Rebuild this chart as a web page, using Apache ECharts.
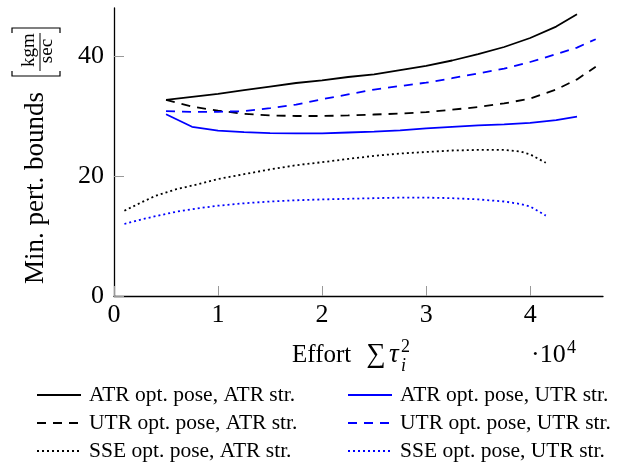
<!DOCTYPE html>
<html>
<head>
<meta charset="utf-8">
<script src="https://cdn.jsdelivr.net/npm/echarts@6/dist/echarts.min.js"></script>
<style>html,body{margin:0;padding:0;background:#fff}#c{width:624px;height:466px}</style>
</head>
<body>
<div id="c"></div>
<script>
// ---- data (x in raw units, y in kgm/sec) ----
const xTicks = [0, 10000, 20000, 30000, 40000];
const yTicks = [0, 20, 40];
const seriesNames = [
  'ATR opt. pose, ATR str.', 'ATR opt. pose, UTR str.',
  'UTR opt. pose, ATR str.', 'UTR opt. pose, UTR str.',
  'SSE opt. pose, ATR str.', 'SSE opt. pose, UTR str.'
];
const atrAtr = [[5000,32.7],[7500,33.2],[10000,33.7],[12500,34.3],[15000,34.9],[17500,35.5],[20000,35.95],[22500,36.5],[25000,36.95],[27500,37.65],[30000,38.35],[32500,39.25],[35000,40.3],[37500,41.5],[40000,43.0],[42500,44.9],[44500,46.95]];
const atrUtr = [[5000,30.3],[7500,28.2],[10000,27.55],[12500,27.3],[15000,27.15],[17500,27.1],[20000,27.1],[22500,27.25],[25000,27.4],[27500,27.6],[30000,27.95],[32500,28.2],[35000,28.45],[37500,28.6],[40000,28.85],[42500,29.3],[44500,29.9]];
const utrAtr = [[5000,32.7],[7500,31.55],[10000,30.9],[12500,30.35],[15000,30.1],[17500,30.0],[20000,30.0],[22500,30.1],[25000,30.25],[27500,30.4],[30000,30.65],[32500,31.05],[35000,31.5],[37500,32.1],[40000,32.9],[42500,34.4],[44500,36.1],[46300,38.2]];
const utrUtr = [[5000,30.8],[7500,30.7],[10000,30.7],[12500,30.8],[15000,31.3],[17500,31.9],[20000,32.8],[22500,33.6],[25000,34.4],[27500,35.0],[30000,35.55],[32500,36.3],[35000,37.1],[37500,37.9],[40000,39.0],[42500,40.3],[44500,41.4],[46300,42.8]];
const sseAtr = [[1000,14.2],[2500,15.5],[4000,16.7],[6000,17.8],[8000,18.6],[10000,19.5],[12500,20.3],[15000,21.1],[17500,21.8],[20000,22.3],[22500,22.85],[25000,23.35],[27500,23.75],[30000,24.0],[32500,24.25],[35000,24.35],[37500,24.35],[39000,24.1],[40000,23.6],[41500,22.2]];
const sseUtr = [[1000,12.0],[2500,12.7],[4000,13.3],[6000,14.05],[8000,14.6],[10000,15.05],[12500,15.45],[15000,15.75],[17500,15.95],[20000,16.1],[22500,16.2],[25000,16.3],[27500,16.4],[30000,16.4],[32500,16.3],[35000,16.1],[37500,15.75],[39000,15.35],[40000,14.9],[41500,13.4]];

const FF = '"Liberation Serif", "Times New Roman", serif';
const BLUE = '#0000ff', BLACK = '#000000';
const DASH = [9, 7], DOT = [2, 3];

function mk(name, data, color, type) {
  return {
    name, type: 'line', data, showSymbol: false, symbol: 'none',
    lineStyle: { color, width: 1.8, type },
    itemStyle: { color },
    animation: false, z: 3
  };
}

const series = [
  mk(seriesNames[0], atrAtr, BLACK, 'solid'),
  mk(seriesNames[1], atrUtr, BLUE, 'solid'),
  mk(seriesNames[2], utrAtr, BLACK, DASH),
  mk(seriesNames[3], utrUtr, BLUE, DASH),
  mk(seriesNames[4], sseAtr, BLACK, DOT),
  mk(seriesNames[5], sseUtr, BLUE, DOT)
];

const legendRows = [395, 423, 451];
const legendCols = [36, 347];
const legends = [];
seriesNames.forEach((n, i) => {
  const row = Math.floor(i / 2), col = i % 2;
  legends.push({
    data: [n], orient: 'horizontal', left: legendCols[col], top: legendRows[row] - 11,
    padding: 0, itemWidth: 44, itemHeight: 14, itemGap: 0, selectedMode: false,
    itemStyle: { opacity: 0, borderWidth: 0 },
    textStyle: { fontFamily: FF, fontSize: 21.5, color: '#000', lineHeight: 22, padding: [0, 0, 0, 3] }
  });
});

const txt = (x, y, text, size, opts) => Object.assign({
  type: 'text', x, y, silent: true,
  style: Object.assign({ text, font: size + 'px ' + FF, fill: '#000', align: 'left', verticalAlign: 'middle' }, opts || {})
});

const graphic = [
  // y-axis name
  { type: 'text', x: 36, y: 188, rotation: Math.PI / 2, silent: true,
    style: { text: 'Min. pert. bounds', font: '27px ' + FF, fill: '#000', align: 'center', verticalAlign: 'middle' } },
  { type: 'text', x: 29, y: 50, rotation: Math.PI / 2, silent: true,
    style: { text: 'kgm', font: '19px ' + FF, fill: '#000', align: 'center', verticalAlign: 'middle' } },
  { type: 'text', x: 47, y: 51, rotation: Math.PI / 2, silent: true,
    style: { text: 'sec', font: '19px ' + FF, fill: '#000', align: 'center', verticalAlign: 'middle' } },
  { type: 'line', silent: true, shape: { x1: 40, y1: 33, x2: 40, y2: 71 }, style: { stroke: '#000', lineWidth: 1 } },
  { type: 'polyline', silent: true, shape: { points: [[12, 33], [12, 28], [60, 28], [60, 33]] }, style: { stroke: '#000', lineWidth: 1.2, fill: null } },
  { type: 'polyline', silent: true, shape: { points: [[12, 71], [12, 76], [60, 76], [60, 71]] }, style: { stroke: '#000', lineWidth: 1.2, fill: null } },
  // x-axis name
  txt(292, 355, 'Effort', 25),
  txt(376, 355, '\u2211', 27, { align: 'center' }),
  txt(389, 355, '\u03c4', 27, { font: 'italic 27px ' + FF }),
  txt(401, 347.5, '2', 18),
  txt(401, 366, 'i', 18, { font: 'italic 18px ' + FF }),
  txt(531, 355, '\u00b710', 26),
  txt(567, 348.5, '4', 18)
];

const option = {
  animation: false,
  backgroundColor: '#fff',
  grid: { left: 114, right: 21, top: 8, bottom: 170, containLabel: false },
  xAxis: {
    type: 'value', min: 0, max: 47000,
    axisLine: { show: true, lineStyle: { color: '#000', width: 1.3 } },
    axisTick: { show: true, inside: true, length: 10, lineStyle: { color: '#999', width: 1 }, customValues: xTicks },
    axisLabel: { customValues: xTicks, formatter: v => String(Math.round(v / 1e4)), fontFamily: FF, fontSize: 26, color: '#000', margin: 6 },
    splitLine: { show: false }
  },
  yAxis: {
    type: 'value', min: 0, max: 48,
    axisLine: { show: true, lineStyle: { color: '#000', width: 1.3 } },
    axisTick: { show: true, inside: true, length: 10, lineStyle: { color: '#999', width: 1 }, customValues: yTicks },
    axisLabel: { customValues: yTicks, fontFamily: FF, fontSize: 26, color: '#000', margin: 10 },
    splitLine: { show: false }
  },
  legend: legends,
  graphic,
  series
};

const chart = echarts.init(document.getElementById('c'), null, { renderer: 'canvas' });
chart.setOption(option);
</script>
</body>
</html>
